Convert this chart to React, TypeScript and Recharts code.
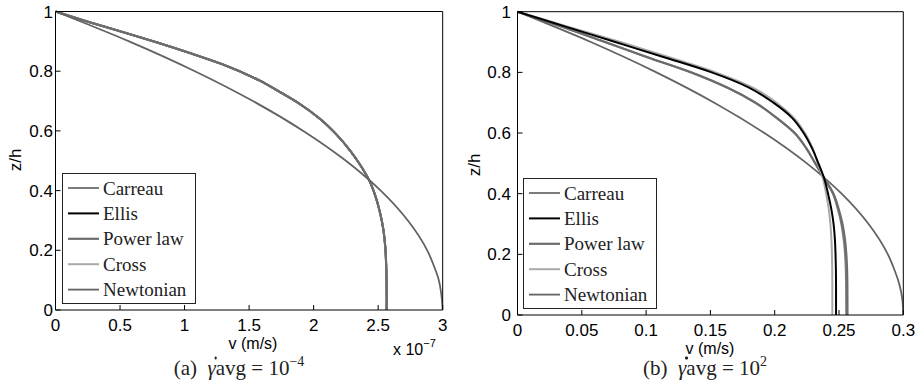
import { LineChart, Line, XAxis, YAxis } from "recharts";

// axis ticks
const leftVTicks = [0, 0.5, 1, 1.5, 2, 2.5, 3];
const rightVTicks = [0, 0.05, 0.1, 0.15, 0.2, 0.25, 0.3];
const zTicks = [0, 0.2, 0.4, 0.6, 0.8, 1];

const modelNames = ["Carreau", "Ellis", "Power law", "Cross", "Newtonian"];

// (a) gamma_avg = 1e-4, v in units of 1e-7 m/s; the four non-Newtonian models overlap
const leftFluidZ = [1, 0.964, 0.931, 0.897, 0.861, 0.822, 0.771, 0.73, 0.691, 0.64, 0.591, 0.53, 0.48, 0.435, 0.38, 0.334, 0.27, 0.212, 0.15, 0.1, 0.05, 0];
const leftFluidV = [0, 0.264, 0.523, 0.782, 1.04, 1.3, 1.57, 1.74, 1.89, 2.05, 2.17, 2.29, 2.37, 2.43, 2.48, 2.51, 2.54, 2.555, 2.562, 2.565, 2.566, 2.566];

const newtonZ = [1, 0.9, 0.8, 0.7, 0.6, 0.5, 0.4, 0.3, 0.2, 0.15, 0.1, 0.05, 0];
const leftNewtonV = [0, 0.57, 1.08, 1.53, 1.92, 2.25, 2.52, 2.73, 2.88, 2.93, 2.97, 2.99, 3.0];

// (b) gamma_avg = 1e2, v in m/s
const rightFluidZ = [1, 0.95, 0.9, 0.85, 0.8, 0.75, 0.7, 0.65, 0.6, 0.55, 0.5, 0.45, 0.4, 0.35, 0.3, 0.25, 0.2, 0.1, 0];
const carreauV = [0, 0.035, 0.068, 0.101, 0.135, 0.163, 0.185, 0.2015, 0.2155, 0.2245, 0.2315, 0.2385, 0.2452, 0.249, 0.2518, 0.2536, 0.2547, 0.2555, 0.2556];
const ellisV = [0, 0.038, 0.076, 0.114, 0.151, 0.18, 0.199, 0.2135, 0.2225, 0.229, 0.234, 0.2385, 0.2415, 0.244, 0.2458, 0.2468, 0.2473, 0.2477, 0.2477];
const powerLawV = [0, 0.035, 0.068, 0.101, 0.135, 0.163, 0.185, 0.2015, 0.2155, 0.2245, 0.2315, 0.2387, 0.2457, 0.2497, 0.2527, 0.2546, 0.2557, 0.2565, 0.2566];
const crossV = [0, 0.04, 0.08, 0.118, 0.154, 0.183, 0.2015, 0.215, 0.2235, 0.2295, 0.2335, 0.2375, 0.24, 0.242, 0.2433, 0.2441, 0.2445, 0.2448, 0.2448];
const rightNewtonV = [0, 0.057, 0.108, 0.153, 0.192, 0.225, 0.252, 0.273, 0.288, 0.293, 0.297, 0.2993, 0.3];

const zip = (v: number[], z: number[]) => v.map((x, i) => ({ v: x, z: z[i] }));

type Pt = { v: number; z: number };
type Series = { name: string; points: Pt[] };

const lineStyle: Record<string, { stroke: string; width: number }> = {
  Carreau: { stroke: "#7c7c7c", width: 2 },
  Ellis: { stroke: "#000000", width: 2 },
  "Power law": { stroke: "#6c6c6c", width: 2.2 },
  Cross: { stroke: "#a9a9a9", width: 2 },
  Newtonian: { stroke: "#636363", width: 1.8 },
};

// draw order (last on top)
const leftSeries: Series[] = [
  { name: "Carreau", points: zip(leftFluidV, leftFluidZ) },
  { name: "Ellis", points: zip(leftFluidV, leftFluidZ) },
  { name: "Cross", points: zip(leftFluidV, leftFluidZ) },
  { name: "Power law", points: zip(leftFluidV, leftFluidZ) },
  { name: "Newtonian", points: zip(leftNewtonV, newtonZ) },
];

const rightSeries: Series[] = [
  { name: "Newtonian", points: zip(rightNewtonV, newtonZ) },
  { name: "Carreau", points: zip(carreauV, rightFluidZ) },
  { name: "Power law", points: zip(powerLawV, rightFluidZ) },
  { name: "Cross", points: zip(crossV, rightFluidZ) },
  { name: "Ellis", points: zip(ellisV, rightFluidZ) },
];

const sans = "'Liberation Sans', Arial, sans-serif";
const serif = "'Liberation Serif', 'DejaVu Serif', serif";
const tickFont = { fontSize: 17, fill: "#000", fontFamily: sans };

// boxed legend, drawn in a shared overlay svg
function LegendBox({ left, top }: { left: number; top: number }) {
  return (
    <g transform={`translate(${left},${top})`}>
      <rect x={0.5} y={0.5} width={133} height={130} fill="#fff" stroke="#222" />
      {modelNames.map((name, i) => {
        const y = 15 + i * 25.4;
        return (
          <g key={name}>
            <line x1={6} x2={37} y1={y} y2={y} stroke={lineStyle[name].stroke} strokeWidth={lineStyle[name].width} />
            <text x={41} y={y + 6.5} fontFamily="Liberation Serif" fontSize={19} fill="#222">
              {name}
            </text>
          </g>
        );
      })}
    </g>
  );
}

type PanelProps = {
  width: number;
  series: Series[];
  xDomain: [number, number];
  xTicks: number[];
  margin: { top: number; right: number; bottom: number; left: number };
  yAxisWidth: number;
  yTickMargin: number;
};

function Panel(p: PanelProps) {
  return (
    <LineChart width={p.width} height={386} margin={p.margin}>
      <XAxis xAxisId="b" type="number" dataKey="v" domain={p.xDomain} ticks={p.xTicks} interval={0}
        tickSize={-5} tickMargin={14} height={30} stroke="#000" tick={tickFont} allowDataOverflow />
      <XAxis xAxisId="t" orientation="top" type="number" dataKey="v" domain={p.xDomain} ticks={p.xTicks} interval={0}
        tickSize={-5} height={1} stroke="#000" tick={false} allowDataOverflow />
      <YAxis yAxisId="l" type="number" dataKey="z" domain={[0, 1]} ticks={zTicks} interval={0}
        tickSize={-5} tickMargin={p.yTickMargin} width={p.yAxisWidth} stroke="#000" tick={tickFont} />
      <YAxis yAxisId="r" orientation="right" type="number" dataKey="z" domain={[0, 1]} ticks={zTicks} interval={0}
        tickSize={-5} width={1} stroke="#000" tick={false} />
      {p.series.map((s) => (
        <Line
          key={s.name}
          xAxisId="b"
          yAxisId="l"
          data={s.points}
          dataKey="z"
          name={s.name}
          type="monotoneY"
          dot={false}
          activeDot={false}
          stroke={lineStyle[s.name].stroke}
          strokeWidth={lineStyle[s.name].width}
          isAnimationActive={false}
        />
      ))}
    </LineChart>
  );
}

const abs = (left: number, top: number): React.CSSProperties => ({ position: "absolute", left, top });

// italic gamma with an overdot drawn as a small mark
function GammaDot() {
  return (
    <span style={{ position: "relative", display: "inline-block", fontStyle: "italic" }}>
      γ
      <span
        style={{
          position: "absolute",
          left: 7,
          top: 1,
          width: 2.6,
          height: 2.6,
          borderRadius: "50%",
          background: "#222",
        }}
      />
    </span>
  );
}

export default function App() {
  return (
    <div style={{ position: "absolute", left: 0, top: 0, width: 917, height: 386, background: "#fff", overflow: "hidden" }}>
      <div style={abs(0, 0)}>
        <Panel
          width={460}
          series={leftSeries}
          xDomain={[0, 3]}
          xTicks={leftVTicks}
          margin={{ top: 10.5, right: 16.3, bottom: 46, left: 0 }}
          yAxisWidth={55.5}
          yTickMargin={7.5}
        />
      </div>
      <div style={abs(460, 0)}>
        <Panel
          width={457}
          series={rightSeries}
          xDomain={[0, 0.3]}
          xTicks={rightVTicks}
          margin={{ top: 10.7, right: 12.7, bottom: 41, left: 0 }}
          yAxisWidth={57.5}
          yTickMargin={11.5}
        />
      </div>

      <svg width={917} height={386} style={{ position: "absolute", left: 0, top: 0, pointerEvents: "none" }}>
        <LegendBox left={62} top={173} />
        <LegendBox left={523} top={178} />
      </svg>

      {/* axis titles */}
      <div style={{ ...abs(16, 160), transform: "translate(-50%,-50%) rotate(-90deg)", fontFamily: sans, fontSize: 17, whiteSpace: "nowrap" }}>z/h</div>
      <div style={{ ...abs(475, 165), transform: "translate(-50%,-50%) rotate(-90deg)", fontFamily: sans, fontSize: 17, whiteSpace: "nowrap" }}>z/h</div>
      <div style={{ ...abs(253, 344), transform: "translate(-50%,-50%)", fontFamily: sans, fontSize: 16, whiteSpace: "nowrap" }}>v (m/s)</div>
      <div style={{ ...abs(710, 349), transform: "translate(-50%,-50%)", fontFamily: sans, fontSize: 16, whiteSpace: "nowrap" }}>v (m/s)</div>
      <div style={{ ...abs(393, 342), fontFamily: sans, fontSize: 16, lineHeight: "16px", whiteSpace: "nowrap" }}>
        x 10<span style={{ fontSize: 11, position: "relative", top: -8 }}>−7</span>
      </div>

      {/* captions */}
      <div style={{ ...abs(239, 368), transform: "translate(-50%,-50%)", fontFamily: serif, fontSize: 21, color: "#222", whiteSpace: "nowrap" }}>
        (a)&nbsp; <GammaDot />avg = 10<span style={{ fontSize: 14, position: "relative", top: -9 }}>−4</span>
      </div>
      <div style={{ ...abs(705, 368), transform: "translate(-50%,-50%)", fontFamily: serif, fontSize: 21, color: "#222", whiteSpace: "nowrap" }}>
        (b)&nbsp; <GammaDot />avg = 10<span style={{ fontSize: 14, position: "relative", top: -9 }}>2</span>
      </div>
    </div>
  );
}
